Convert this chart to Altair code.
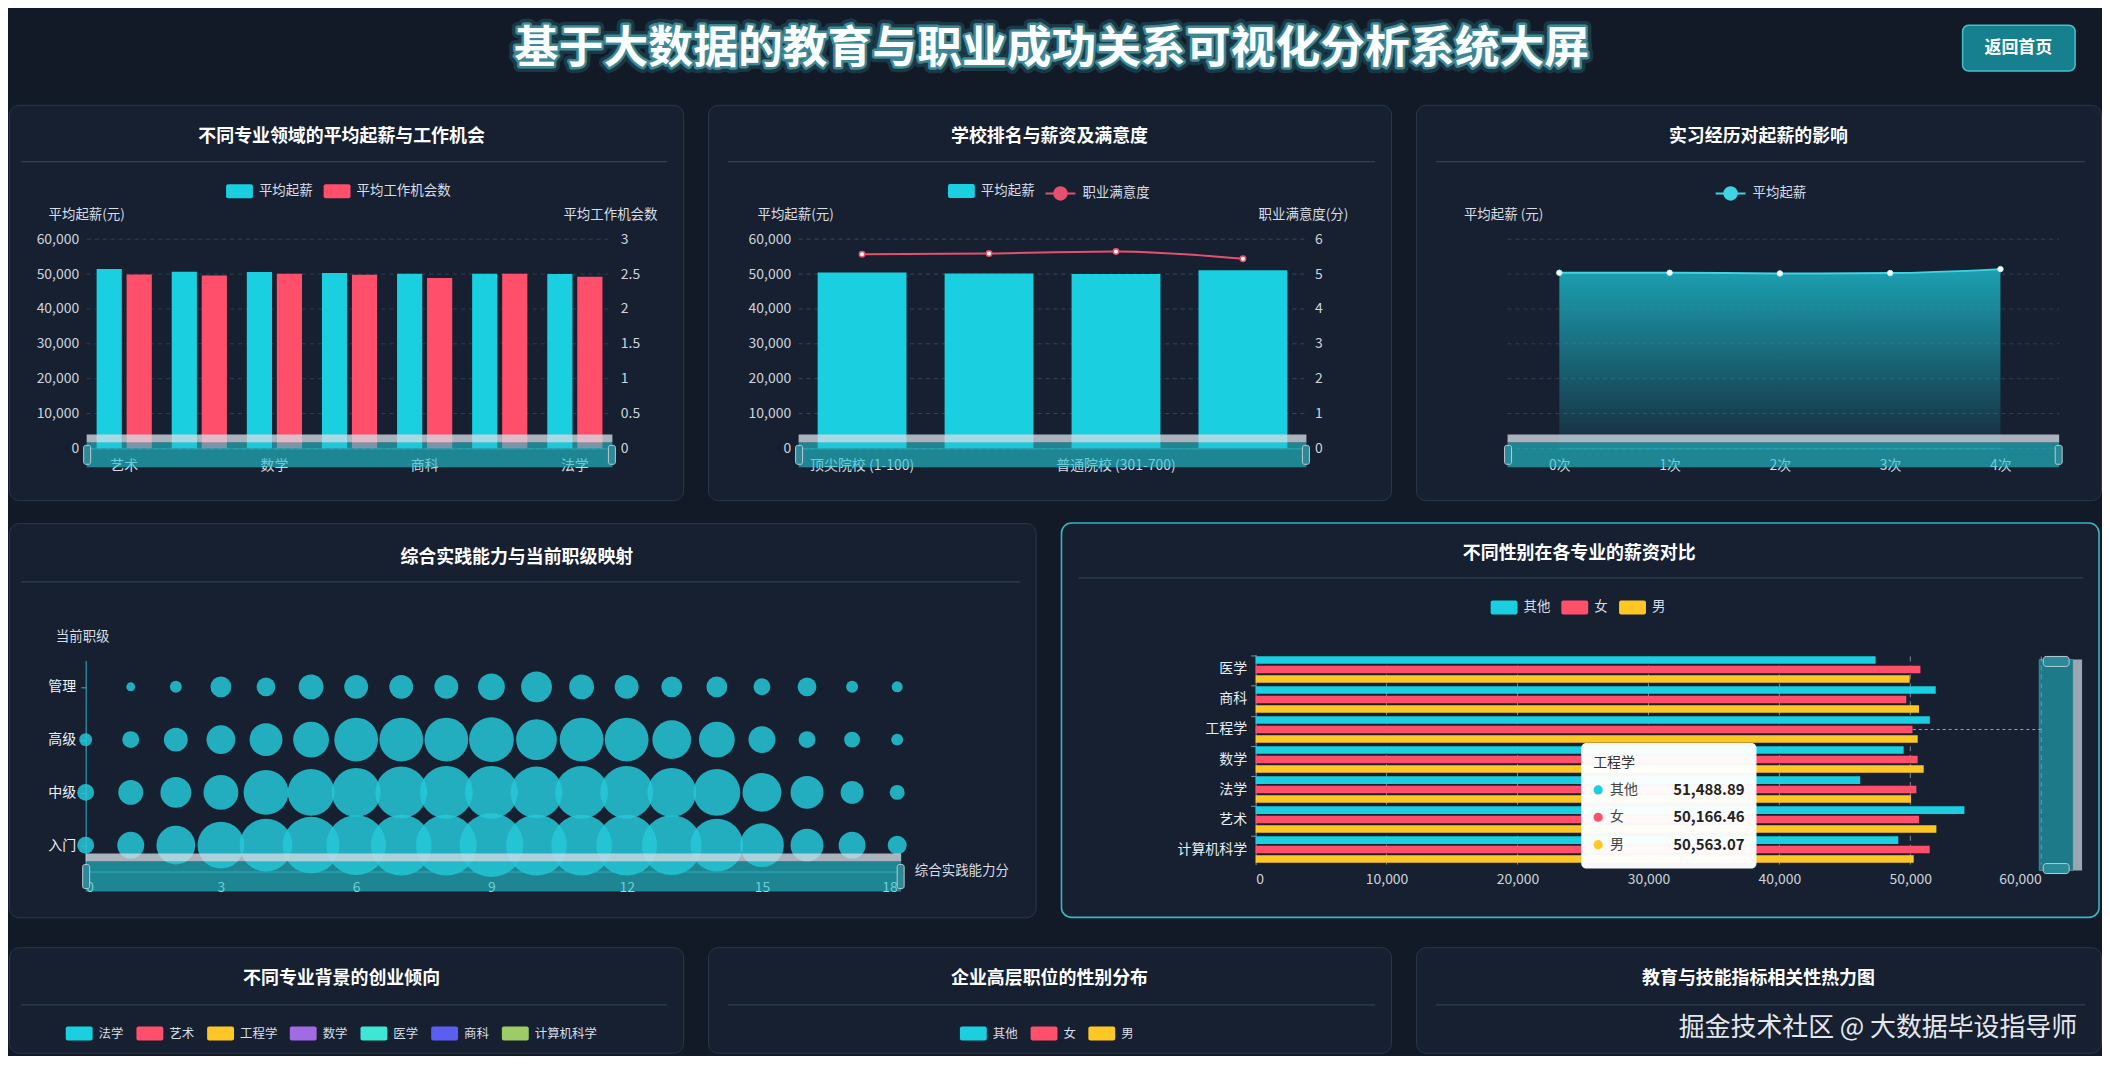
import altair as alt
import pandas as pd

FONT = "Noto Sans CJK SC"
BG = "#131a27"
PANEL = "#162031"
BORDER = "#27394b"
GLOW = "#3ab3c3"
SEP = "#2b4255"
CYAN = "#19cfe0"
RED = "#ff4f6b"
PINK = "#e5506e"
YELLOW = "#ffc726"
LINEC = "#3fd3e3"
WHITE = "#ffffff"
TXT = "#d8dee6"
AXT = "#cdd4dd"

# ---------------- data ----------------
main_title = "基于大数据的教育与职业成功关系可视化分析系统大屏"
button_text = "返回首页"

majors1 = ["艺术", "计算机科学", "数学", "医学", "商科", "工程学", "法学"]
majors1_shown = ["艺术", "数学", "商科", "法学"]
salary1 = [51430, 50670, 50570, 50290, 50100, 50100, 50000]
jobs1 = [2.495, 2.481, 2.505, 2.490, 2.443, 2.505, 2.462]
series1 = ["平均起薪", "平均工作机会数"]

schools = ["顶尖院校 (1-100)", "重点院校 (101-300)", "普通院校 (301-700)", "其他院校 (700+)"]
schools_shown = ["顶尖院校 (1-100)", "普通院校 (301-700)"]
salary2 = [50480, 50190, 50000, 51140]
satisfaction2 = [5.57, 5.59, 5.65, 5.44]

internships = ["0次", "1次", "2次", "3次", "4次"]
salary3 = [50380, 50380, 50190, 50290, 51430]

levels = ["管理", "高级", "中级", "入门"]
practice_scores = [0, 1, 2, 3, 4, 5, 6, 7, 8, 9, 10, 11, 12, 13, 14, 15, 16, 17, 18]
bubble_mgmt = [0, 9, 12, 21, 19, 25, 24, 24, 24, 27, 31, 25, 24, 21, 21, 17, 19, 12, 11]
bubble_senior = [13, 17, 24, 29, 33, 36, 44, 44, 44, 45, 41, 44, 44, 39, 36, 27, 17, 16, 12]
bubble_mid = [17, 25, 31, 35, 45, 47, 49, 52, 53, 53, 52, 53, 53, 49, 47, 39, 33, 23, 15]
bubble_entry = [17, 27, 39, 47, 53, 57, 60, 61, 61, 64, 61, 61, 61, 60, 53, 44, 33, 27, 19]

majors5 = ["医学", "商科", "工程学", "数学", "法学", "艺术", "计算机科学"]
genders = ["其他", "女", "男"]
salary_other = [47350, 51940, 51488.89, 49490, 46170, 54130, 49080]
salary_female = [50770, 49690, 50166.46, 50560, 50460, 50660, 51480]
salary_male = [49950, 50660, 50563.07, 51020, 50050, 51990, 50260]
tooltip_major = "工程学"

majors6 = ["法学", "艺术", "工程学", "数学", "医学", "商科", "计算机科学"]
colors6 = [CYAN, RED, YELLOW, "#a36be3", "#3ee6d6", "#5a5ff2", "#9ccc65"]

salary_ticks = [0, 10000, 20000, 30000, 40000, 50000, 60000]
job_ticks = [0, 0.5, 1, 1.5, 2, 2.5, 3]
sat_ticks = [0, 1, 2, 3, 4, 5, 6]
score_ticks = [0, 3, 6, 9, 12, 15, 18]
gender_grid = [10000, 20000, 30000, 40000, 50000, 60000]

RECT_PATH = ("M-0.85,-0.52 L0.85,-0.52 Q1,-0.52 1,-0.37 L1,0.37 Q1,0.52 0.85,0.52 "
             "L-0.85,0.52 Q-1,0.52 -1,0.37 L-1,-0.37 Q-1,-0.52 -0.85,-0.52 Z")
LINE_PATH = ("M-1,0 L-0.42,0 M0.42,0 L1,0 M0.42,0 A0.42,0.42 0 1,1 -0.42,0 "
             "A0.42,0.42 0 1,1 0.42,0 Z")

ONE = pd.DataFrame({"k": [0]})
NUMFMT = ",.0f"
LAB = 14


# ---------------- helpers ----------------
def txt(s, x, y, size=13.5, color=TXT, align="center", weight="normal", baseline="middle", **kw):
    return alt.Chart(ONE).mark_text(text=s, align=align, baseline=baseline, fontSize=size,
                                    color=color, fontWeight=weight, **kw).encode(
        x=alt.value(x), y=alt.value(y))


def box(x1, x2, y1, y2, color, opacity=1.0, **kw):
    return alt.Chart(ONE).mark_rect(color=color, opacity=opacity, **kw).encode(
        x=alt.value(x1), x2=alt.value(x2), y=alt.value(y1), y2=alt.value(y2))


def hline(x1, x2, y, color, width=1.0, dash=None, opacity=1.0):
    kw = {"strokeDash": dash} if dash else {}
    return alt.Chart(ONE).mark_rule(color=color, strokeWidth=width, opacity=opacity, **kw).encode(
        x=alt.value(x1), x2=alt.value(x2), y=alt.value(y))


def frame(w, title, tx, ty=32, sep_y=57, sx1=12):
    return [txt(title, tx, ty, size=18, color=WHITE, weight="bold"),
            hline(sx1, w - 16, sep_y, SEP, 1.2)]


def hslider(x1, x2, y0, th=25):
    return [box(x1, x2, y0, y0 + 8, "#d3dbe5", 0.78),
            box(x1, x2, y0 + 8, y0 + 8 + th, "#24c4d1", 0.62),
            box(x1 - 3, x1 + 4, y0 + 11, y0 + 5 + th, "#2a8a97", 1.0,
                stroke="#bccad6", strokeWidth=1, cornerRadius=2),
            box(x2 - 4, x2 + 3, y0 + 11, y0 + 5 + th, "#2a8a97", 1.0,
                stroke="#bccad6", strokeWidth=1, cornerRadius=2)]


def hgrid(ticks, scale, x1, x2, color="#2e3f52"):
    return alt.Chart(pd.DataFrame({"v": ticks})).mark_rule(
        color=color, strokeDash=[4, 4], strokeWidth=1).encode(
        y=alt.Y("v:Q", scale=scale, axis=None), x=alt.value(x1), x2=alt.value(x2))


def rect_legend(x, y, size=13.5, cp=11):
    return alt.Legend(orient="none", legendX=x, legendY=y, direction="horizontal", title=None,
                      symbolType=RECT_PATH, symbolSize=729, symbolStrokeWidth=0, symbolOpacity=1,
                      labelFontSize=size, labelColor=TXT, columnPadding=cp, labelOffset=6)


def line_legend(x, y, color):
    return alt.Legend(orient="none", legendX=x, legendY=y, direction="horizontal", title=None,
                      symbolType=LINE_PATH, symbolSize=900, symbolStrokeWidth=2,
                      symbolFillColor=color, symbolStrokeColor=color, symbolOpacity=1,
                      labelFontSize=13.5, labelColor=TXT, labelOffset=6)


def xcat_axis(offset, values=None, dcolor="#3b8d9b"):
    kw = dict(title=None, orient="bottom", offset=offset, labelAngle=0, labelColor=TXT,
              labelFontSize=LAB, labelPadding=10, ticks=False, domainColor=dcolor, grid=False)
    if values is not None:
        kw["values"] = values
    return alt.Axis(**kw)


def yaxis(orient, offset, values, fmt):
    return alt.Axis(title=None, orient=orient, offset=offset, values=values, format=fmt,
                    domain=False, ticks=False, grid=False, labelPadding=8, labelColor=AXT,
                    labelFontSize=LAB)


def panel_view(stroke=BORDER, sw=1.0):
    return alt.ViewBackground(fill=PANEL, stroke=stroke, strokeWidth=sw, cornerRadius=10)


def indep(c):
    return c.resolve_scale(color="independent", stroke="independent", size="independent",
                           xOffset="independent", yOffset="independent").resolve_legend(
        color="independent", stroke="independent", size="independent")


YR = [345, 135]

# ---------------- header ----------------
HW, HH = 2097, 84
header = alt.layer(
    txt(main_title, 1047, 38, size=45, color="#3fd8e8", weight="bold",
        stroke="#3fd8e8", strokeWidth=12, opacity=0.16, strokeJoin="round"),
    txt(main_title, 1047, 38, size=45, color="#9af2f8", weight="bold",
        stroke="#6fe6f0", strokeWidth=5, opacity=0.45, strokeJoin="round"),
    txt(main_title, 1047, 38, size=45, color="#fbffff", weight="bold"),
    box(1962, 2075, 14, 60, "#17808e", 1.0, stroke="#45c0cf", strokeWidth=1.5, cornerRadius=6),
    txt(button_text, 2018, 37, size=17, color=WHITE, weight="bold"),
).properties(width=HW, height=HH,
             view=alt.ViewBackground(fill="transparent", stroke="transparent"))

# ---------------- panel 1 ----------------
W1, H1 = 677, 397
ys_sal1 = alt.Scale(domain=[0, 60000], range=YR, nice=False, zero=True)
ys_job1 = alt.Scale(domain=[0, 3], range=YR, nice=False, zero=True)
df1a = pd.DataFrame({"专业": majors1, "指标": series1[0], "值": salary1})
df1b = pd.DataFrame({"专业": majors1, "指标": series1[1], "值": jobs1})
x1 = alt.X("专业:N", sort=majors1,
           scale=alt.Scale(domain=majors1, range=[78, 606], paddingInner=0.265, paddingOuter=0.1325),
           axis=xcat_axis(-52, majors1_shown))
xo1 = alt.XOffset("指标:N", sort=series1,
                  scale=alt.Scale(domain=series1, paddingInner=0.16, paddingOuter=0))
c1 = alt.Color("指标:N", sort=series1, scale=alt.Scale(domain=series1, range=[CYAN, RED]),
               legend=rect_legend(218, 73))
bar1a = alt.Chart(df1a).mark_bar().encode(
    x=x1, xOffset=xo1, color=c1,
    y=alt.Y("值:Q", scale=ys_sal1, axis=yaxis("left", -78, salary_ticks, NUMFMT)))
bar1b = alt.Chart(df1b).mark_bar().encode(
    x=x1, xOffset=xo1, color=c1,
    y=alt.Y("值:Q", scale=ys_job1, axis=yaxis("right", -(W1 - 606), job_ticks, "~g")))
p1 = alt.layer(
    hgrid(salary_ticks, ys_sal1, 78, 606), bar1a, bar1b,
    *hslider(78, 606, 331),
    txt("平均起薪(元)", 78, 111), txt("平均工作机会数", 604, 111),
    *frame(W1, "不同专业领域的平均起薪与工作机会", 334),
).resolve_scale(y="independent").properties(width=W1, height=H1, view=panel_view())

# ---------------- panel 2 ----------------
W2, H2 = 686, 397
ys_sal2 = alt.Scale(domain=[0, 60000], range=YR, nice=False, zero=True)
ys_sat2 = alt.Scale(domain=[0, 6], range=YR, nice=False, zero=True)
df2a = pd.DataFrame({"院校": schools, "系列": "平均起薪", "值": salary2})
df2b = pd.DataFrame({"院校": schools, "系列": "职业满意度", "值": satisfaction2})
x2 = alt.X("院校:N", sort=schools,
           scale=alt.Scale(domain=schools, range=[91, 601], paddingInner=0.3, paddingOuter=0.15),
           axis=xcat_axis(-52, schools_shown))
bar2 = alt.Chart(df2a).mark_bar().encode(
    x=x2,
    y=alt.Y("值:Q", scale=ys_sal2, axis=yaxis("left", -91, salary_ticks, NUMFMT)),
    color=alt.Color("系列:N", scale=alt.Scale(domain=["平均起薪"], range=[CYAN]),
                    legend=rect_legend(241, 73)))
line2 = alt.Chart(df2b).mark_line(interpolate="monotone", strokeWidth=2).encode(
    x=x2,
    y=alt.Y("值:Q", scale=ys_sat2, axis=yaxis("right", -(W2 - 601), sat_ticks, "d")),
    stroke=alt.Stroke("系列:N", scale=alt.Scale(domain=["职业满意度"], range=[PINK]),
                      legend=line_legend(338, 73, PINK)))
pts2 = alt.Chart(df2b).mark_point(shape="circle", filled=True, fill=WHITE, stroke=PINK,
                                  strokeWidth=1.5, size=30, opacity=1).encode(
    x=x2, y=alt.Y("值:Q", scale=ys_sat2, axis=None))
p2 = alt.layer(
    hgrid(salary_ticks, ys_sal2, 91, 601, "#34465a"), bar2, line2, pts2,
    *hslider(91, 601, 331),
    txt("平均起薪(元)", 88, 111), txt("职业满意度(分)", 598, 111),
    *frame(W2, "学校排名与薪资及满意度", 343, sx1=20),
).resolve_scale(y="independent").properties(width=W2, height=H2, view=panel_view())

# ---------------- panel 3 ----------------
W3, H3 = 688, 397
ys3 = alt.Scale(domain=[0, 60000], range=YR, nice=False, zero=True)
df3 = pd.DataFrame({"实习": internships, "系列": "平均起薪", "值": salary3})
x3 = alt.X("实习:N", sort=internships,
           scale=alt.Scale(type="point", domain=internships, range=[144, 587], padding=0),
           axis=xcat_axis(-52))
grad = alt.Gradient(gradient="linear", x1=1, x2=1, y1=0, y2=1,
                    stops=[alt.GradientStop(color="rgba(28,178,195,0.88)", offset=0),
                           alt.GradientStop(color="rgba(28,178,195,0.08)", offset=1)])
area3 = alt.Chart(df3).mark_area(interpolate="monotone", color=grad).encode(
    x=x3, y=alt.Y("值:Q", scale=ys3, axis=yaxis("left", -92, salary_ticks, NUMFMT)))
line3 = alt.Chart(df3).mark_line(interpolate="monotone", strokeWidth=2).encode(
    x=x3, y=alt.Y("值:Q", scale=ys3, axis=None),
    stroke=alt.Stroke("系列:N", scale=alt.Scale(domain=["平均起薪"], range=[LINEC]),
                      legend=line_legend(300, 73, LINEC)))
pts3 = alt.Chart(df3).mark_point(shape="circle", filled=True, fill=WHITE, stroke="#bdf3f8",
                                 strokeWidth=1, size=30, opacity=1).encode(
    x=x3, y=alt.Y("值:Q", scale=ys3, axis=None))
p3 = alt.layer(
    hgrid(salary_ticks, ys3, 92, 646), area3, line3, pts3,
    *hslider(92, 646, 331),
    txt("平均起薪 (元)", 88, 111),
    *frame(W3, "实习经历对起薪的影响", 344, sx1=20),
).properties(width=W3, height=H3, view=panel_view())

# ---------------- panel 4 ----------------
W4, H4 = 1031, 396
rows4 = []
for lv, arr in zip(levels, [bubble_mgmt, bubble_senior, bubble_mid, bubble_entry]):
    for s, v in zip(practice_scores, arr):
        rows4.append({"职级": lv, "综合实践能力分": s, "规模": v})
df4 = pd.DataFrame(rows4)
bub = alt.Chart(df4).mark_circle(color="#24c8d8", opacity=0.85).encode(
    x=alt.X("综合实践能力分:Q",
            scale=alt.Scale(domain=[0, 18], range=[77, 892], nice=False, zero=False),
            axis=alt.Axis(title=None, values=score_ticks, offset=-46, domainColor="#3b8d9b",
                          ticks=False, grid=False, labelPadding=9, labelColor=TXT,
                          labelFontSize=LAB)),
    y=alt.Y("职级:N", sort=levels,
            scale=alt.Scale(domain=levels, range=[138, 350], paddingInner=0, paddingOuter=0),
            axis=alt.Axis(title=None, orient="left", offset=-77, domainColor="#2fb6c6",
                          tickColor="#2fb6c6", tickSize=5, bandPosition=0, labelPadding=5,
                          labelColor="#eef3f7", labelFontSize=LAB, grid=False)),
    size=alt.Size("规模:Q", scale=alt.Scale(type="pow", exponent=2, domain=[0, 64],
                                           range=[0, 4096]), legend=None))
p4 = alt.layer(
    bub,
    *hslider(77, 896, 332, th=30),
    txt("当前职级", 74, 114), txt("综合实践能力分", 957, 349),
    *frame(W4, "综合实践能力与当前职级映射", 510, ty=35, sep_y=59),
).properties(width=W4, height=H4, view=panel_view())

# ---------------- panel 5 ----------------
W5, H5 = 1042, 396
rows5 = []
for g, arr in zip(genders, [salary_other, salary_female, salary_male]):
    for m, v in zip(majors5, arr):
        rows5.append({"专业": m, "性别": g, "薪资": v})
df5 = pd.DataFrame(rows5)


def xs5():
    return alt.Scale(domain=[0, 60000], range=[195, 984], nice=False, zero=True)


def ys5():
    return alt.Scale(domain=majors5, range=[132, 343], paddingInner=0.12, paddingOuter=0.06)


grid5 = alt.Chart(pd.DataFrame({"v": gender_grid})).mark_rule(
    color="#d8dee6", opacity=0.55, strokeDash=[5, 4]).encode(
    x=alt.X("v:Q", scale=xs5(), axis=None), y=alt.value(134), y2=alt.value(343))
pointer5 = alt.Chart(pd.DataFrame({"专业": [tooltip_major]})).mark_rule(
    color="#8fa6b6", strokeDash=[3, 3], strokeWidth=1).encode(
    y=alt.Y("专业:N", sort=majors5, scale=ys5(), axis=None), x=alt.value(195), x2=alt.value(985))
bars5 = alt.Chart(df5).mark_bar().encode(
    x=alt.X("薪资:Q", scale=xs5(), stack=None,
            axis=alt.Axis(title=None, orient="bottom", values=salary_ticks, format=NUMFMT,
                          offset=-53, domain=False, ticks=False, grid=False, labelPadding=8,
                          labelColor=AXT, labelFontSize=LAB)),
    y=alt.Y("专业:N", sort=majors5, scale=ys5(),
            axis=alt.Axis(title=None, orient="left", offset=-195, domainColor="#7d93a6",
                          tickColor="#7d93a6", tickSize=5, bandPosition=0, labelPadding=4,
                          labelColor="#e6ecf2", labelFontSize=LAB, grid=False)),
    yOffset=alt.YOffset("性别:N", sort=genders,
                        scale=alt.Scale(domain=genders, paddingInner=0.2, paddingOuter=0)),
    color=alt.Color("性别:N", sort=genders,
                    scale=alt.Scale(domain=genders, range=[CYAN, RED, YELLOW]),
                    legend=rect_legend(431, 71)))
vslider = [box(982, 1016, 137, 349, "#24c4d1", 0.55, stroke="#7fd8e2", strokeWidth=1),
           box(1016, 1025, 137, 349, "#aab5c2", 0.9),
           box(986, 1012, 134, 144, "#2a8a97", 1.0, stroke="#bccad6", strokeWidth=1, cornerRadius=3),
           box(986, 1012, 342, 352, "#2a8a97", 1.0, stroke="#bccad6", strokeWidth=1, cornerRadius=3)]
idx = majors5.index(tooltip_major)
tip_vals = [salary_other[idx], salary_female[idx], salary_male[idx]]
tip = [box(522, 698, 221, 347, "#ffffff", 0.97, cornerRadius=5),
       txt(tooltip_major, 534, 241, size=14, color="#333333", align="left")]
for i, (g, v, c) in enumerate(zip(genders, tip_vals, [CYAN, RED, YELLOW])):
    yy = 268 + 27.5 * i
    dv = pd.DataFrame({"值": [v]})
    tip.append(alt.Chart(dv).mark_circle(color=c, opacity=1, size=85).encode(
        x=alt.value(539), y=alt.value(yy)))
    tip.append(txt(g, 551, yy, size=14, color="#444444", align="left"))
    tip.append(alt.Chart(dv).mark_text(align="right", baseline="middle", fontSize=15,
                                       fontWeight="bold", color="#222222").encode(
        x=alt.value(686), y=alt.value(yy), text=alt.Text("值:Q", format=",.2f")))
p5 = alt.layer(
    grid5, pointer5, bars5, *vslider, *tip,
    *frame(W5, "不同性别在各专业的薪资对比", 520, ty=31, sep_y=55, sx1=17),
).resolve_scale(x="independent", y="independent").properties(
    width=W5, height=H5, view=panel_view(GLOW, 1.6))

# ---------------- bottom row (partially visible) ----------------
H6 = 106
leg6 = alt.Chart(pd.DataFrame({"专业": majors6})).mark_rect(opacity=0).encode(
    x=alt.value(0), x2=alt.value(1), y=alt.value(0), y2=alt.value(1),
    color=alt.Color("专业:N", sort=majors6, scale=alt.Scale(domain=majors6, range=colors6),
                    legend=rect_legend(57, 73, size=12.5, cp=12)))
p6 = alt.layer(leg6, *frame(W1, "不同专业背景的创业倾向", 334, sep_y=58)).properties(
    width=W1, height=H6, view=panel_view())

leg7 = alt.Chart(pd.DataFrame({"性别": genders})).mark_rect(opacity=0).encode(
    x=alt.value(0), x2=alt.value(1), y=alt.value(0), y2=alt.value(1),
    color=alt.Color("性别:N", sort=genders, scale=alt.Scale(domain=genders, range=[CYAN, RED, YELLOW]),
                    legend=rect_legend(253, 73, size=12.5, cp=12)))
p7 = alt.layer(leg7, *frame(W2, "企业高层职位的性别分布", 343, sep_y=58, sx1=20)).properties(
    width=W2, height=H6, view=panel_view())

p8 = alt.layer(
    *frame(W3, "教育与技能指标相关性热力图", 344, sep_y=58, sx1=20),
    txt("掘金技术社区 @ 大数据毕设指导师", 664, 81, size=26, color="#e4e8ed", align="right"),
).properties(width=W3, height=H6, view=panel_view())

# ---------------- assemble ----------------
row1 = indep(alt.hconcat(p1, p2, p3, spacing=23))
row2 = indep(alt.hconcat(p4, p5, spacing=24))
row3 = indep(alt.hconcat(p6, p7, p8, spacing=23))

inner = indep(alt.vconcat(row2, row3, spacing=28))
mid = indep(alt.vconcat(row1, inner, spacing=21))
chart = indep(alt.vconcat(header, mid, spacing=8))

chart = chart.properties(padding=0, background=BG).configure(font=FONT).configure_view(
    stroke="transparent")

chart.save("out.html", embed_options={"renderer": "svg", "actions": False})
